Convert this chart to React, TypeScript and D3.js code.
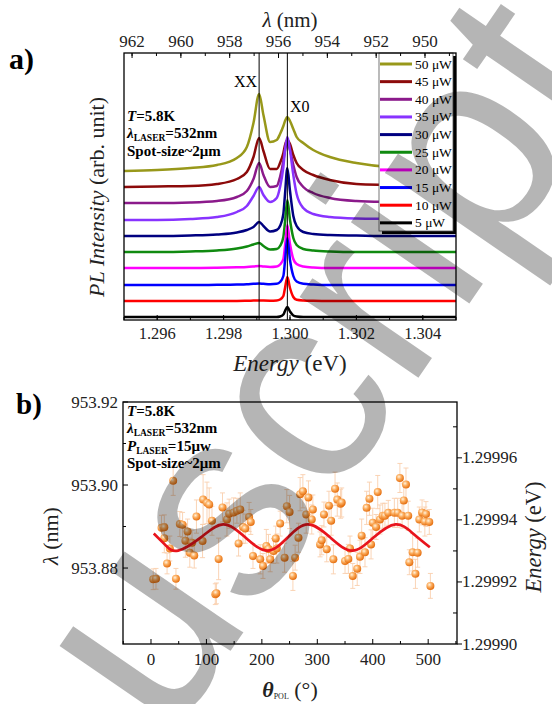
import React from 'react';
import * as d3 from 'd3';

const W = 552;
const H = 704;
const SERIF = '"Liberation Serif", "Times New Roman", Times, serif';

// ---------- Panel a data ----------
const powerLabels = ['50 μW', '45 μW', '40 μW', '35 μW', '30 μW', '25 μW', '20 μW', '15 μW', '10 μW', '5 μW'];
const seriesColors = ['#98981a', '#8c0a0a', '#8b1a8b', '#8833ff', '#000080', '#108a10', '#ff00ff', '#0000ff', '#ff0000', '#000000'];
const baselineOffsets = [14.9, 13.3, 11.7, 10.0, 8.4, 6.8, 5.2, 3.5, 1.9, 0.3];
const energyGrid = [1.2950, 1.2960, 1.2970, 1.2978, 1.2984, 1.2987, 1.2989, 1.29907, 1.2992, 1.2994, 1.2996, 1.2997, 1.2998, 1.29985, 1.29992, 1.3000, 1.3001, 1.3002, 1.3004, 1.3007, 1.3012, 1.3020, 1.3030, 1.3040, 1.3050];
const spec50 = [0, 0.1, 0.3, 0.6, 1.3, 2.4, 4.8, 7.7, 5.6, 2.9, 3.1, 3.7, 4.5, 5.0, 5.4, 5.0, 4.2, 3.4, 2.8, 2.1, 1.4, 0.8, 0.4, 0.3, 0.3];
const spec45 = [0, 0.05, 0.1, 0.3, 0.8, 1.5, 3.0, 4.9, 3.6, 1.8, 1.8, 2.4, 3.4, 4.2, 4.7, 4.3, 3.2, 2.4, 1.7, 1.2, 0.7, 0.3, 0.2, 0.1, 0.1];
const spec40 = [0, 0, 0.05, 0.2, 0.6, 1.2, 2.4, 4.0, 2.8, 1.6, 1.7, 2.6, 4.2, 5.3, 6.0, 5.3, 3.8, 2.6, 1.6, 1.0, 0.5, 0.2, 0.1, 0.05, 0];
const spec35 = [0, 0, 0.1, 0.3, 0.8, 1.4, 2.4, 3.3, 2.5, 1.8, 2.2, 3.3, 5.3, 7.0, 8.3, 7.0, 4.5, 2.6, 1.2, 0.6, 0.3, 0.15, 0.1, 0.05, 0];
const spec30 = [0, 0, 0.05, 0.15, 0.35, 0.6, 0.9, 1.4, 1.0, 0.45, 0.6, 1.0, 2.2, 4.2, 6.8, 4.5, 2.0, 1.0, 0.4, 0.2, 0.1, 0.05, 0, 0, 0];
const spec25 = [0, 0, 0.05, 0.15, 0.35, 0.55, 0.75, 0.9, 0.6, 0.25, 0.3, 0.6, 1.5, 3.0, 5.2, 3.2, 1.4, 0.7, 0.3, 0.15, 0.05, 0, 0, 0, 0];
const spec20 = [0, 0, 0, 0.03, 0.07, 0.1, 0.15, 0.2, 0.15, 0.1, 0.15, 0.35, 0.9, 2.2, 4.3, 2.4, 0.9, 0.4, 0.15, 0.05, 0, 0, 0, 0, 0];
const spec15 = [0, 0, 0, 0.02, 0.05, 0.08, 0.12, 0.15, 0.12, 0.08, 0.12, 0.3, 0.9, 2.4, 4.7, 2.5, 0.9, 0.35, 0.12, 0.05, 0, 0, 0, 0, 0];
const spec10 = [0, 0, 0, 0, 0, 0.02, 0.04, 0.06, 0.04, 0.03, 0.05, 0.15, 0.5, 1.3, 2.4, 1.3, 0.4, 0.12, 0.05, 0.02, 0, 0, 0, 0, 0];
const spec5 = [0, 0, 0, 0, 0, 0, 0, 0, 0, 0, 0, 0.05, 0.25, 0.6, 1.0, 0.55, 0.15, 0.05, 0, 0, 0, 0, 0, 0, 0];
const spectra = [spec50, spec45, spec40, spec35, spec30, spec25, spec20, spec15, spec10, spec5];
const energyTicks = [1.296, 1.298, 1.300, 1.302, 1.304];
const energyMinorTicks = [1.295, 1.296, 1.297, 1.298, 1.299, 1.300, 1.301, 1.302, 1.303, 1.304, 1.305];
const wavelengthTicks = [962, 960, 958, 956, 954, 952, 950];
const wavelengthMinorTicks = [962, 961, 960, 959, 958, 957, 956, 955, 954, 953, 952, 951, 950, 949];
const peakLines = [1.29907, 1.29992];

// ---------- Panel b data ----------
const polAngles = [4, 9, 19, 24, 24, 29, 34, 40, 45, 52, 57, 62, 66, 70, 74, 78, 82, 93, 94, 101, 105, 110, 116, 118, 122, 129, 137, 141, 149, 155, 158, 161, 166, 170, 177, 180, 184, 197, 202, 208, 212, 215, 221, 225, 227, 233, 241, 245, 250, 256, 260, 266, 269, 274, 280, 284, 290, 292, 305, 308, 312, 317, 321, 325, 329, 332, 336, 342, 344, 350, 356, 359, 364, 372, 377, 380, 386, 389, 394, 397, 400, 406, 409, 413, 418, 422, 428, 439, 445, 449, 453, 456, 460, 464, 466, 472, 477, 481, 484, 489, 494, 496, 502, 504];
const polWavelengths = [953.8773, 953.8774, 953.8897, 953.8898, 953.8872, 953.8811, 953.8847, 953.9010, 953.8774, 953.8906, 953.8904, 953.8866, 953.8888, 953.8837, 953.8861, 953.8830, 953.8924, 953.8865, 953.8965, 953.8957, 953.8953, 953.8914, 953.8737, 953.8739, 953.8822, 953.8946, 953.8917, 953.8931, 953.8934, 953.8938, 953.8859, 953.8941, 953.8899, 953.8895, 953.8923, 953.8911, 953.8829, 953.8821, 953.8805, 953.8853, 953.8846, 953.8821, 953.8841, 953.8871, 953.8847, 953.8907, 953.8825, 953.8949, 953.8935, 953.8781, 953.8825, 953.8873, 953.8978, 953.8985, 953.8929, 953.8970, 953.8917, 953.8941, 953.8857, 953.8867, 953.8929, 953.8845, 953.8950, 953.8914, 953.8821, 953.8991, 953.8965, 953.8955, 953.8958, 953.8817, 953.8822, 953.8847, 953.8781, 953.8798, 953.8827, 953.8878, 953.8838, 953.8945, 953.8967, 953.8857, 953.8909, 953.8899, 953.8983, 953.8917, 953.8926, 953.8926, 953.8933, 953.8933, 953.8933, 953.9017, 953.8926, 953.8963, 953.9001, 953.8926, 953.8814, 953.8838, 953.8786, 953.8837, 953.8917, 953.8934, 953.8912, 953.8930, 953.8911, 953.8757];
const polErrors = [0.0025, 0.0025, 0.003, 0.003, 0.0035, 0.0025, 0.003, 0.0035, 0.0025, 0.003, 0.003, 0.004, 0.003, 0.0035, 0.003, 0.003, 0.004, 0.004, 0.006, 0.005, 0.004, 0.0035, 0.0025, 0.0025, 0.005, 0.0035, 0.004, 0.0035, 0.0035, 0.003, 0.003, 0.004, 0.004, 0.0035, 0.0035, 0.003, 0.003, 0.0035, 0.003, 0.004, 0.0035, 0.003, 0.003, 0.003, 0.0035, 0.003, 0.0035, 0.004, 0.004, 0.0035, 0.003, 0.0035, 0.004, 0.004, 0.0045, 0.004, 0.0035, 0.0035, 0.003, 0.0035, 0.003, 0.003, 0.0035, 0.0035, 0.0035, 0.004, 0.004, 0.0035, 0.0035, 0.003, 0.0035, 0.003, 0.003, 0.004, 0.004, 0.004, 0.0035, 0.004, 0.004, 0.0035, 0.0035, 0.003, 0.004, 0.0035, 0.003, 0.003, 0.003, 0.0035, 0.0035, 0.0035, 0.003, 0.004, 0.004, 0.0035, 0.003, 0.0045, 0.0035, 0.0035, 0.003, 0.003, 0.0035, 0.003, 0.003, 0.003];
const fitAngles = [5, 27, 49, 90, 130, 170, 210, 247, 283, 323, 363, 402, 441, 472, 503];
const fitWavelengths = [953.8883, 953.8854, 953.8842, 953.8874, 953.8905, 953.8874, 953.8842, 953.8874, 953.8905, 953.8874, 953.8842, 953.8874, 953.8905, 953.8884, 953.8850];
const angleTicks = [0, 100, 200, 300, 400, 500];
const angleMinorTicks = [-50, 50, 150, 250, 350, 450, 550];
const lambdaTicks = [953.92, 953.90, 953.88];
const lambdaMinorTicks = [953.91, 953.89, 953.87];
const energyBTicks = [1.29990, 1.29992, 1.29994, 1.29996];
const energyBMinorTicks = [1.29991, 1.29993, 1.29995, 1.29997];

// ---------- Geometry ----------
const A = { left: 124, right: 456, top: 53, bottom: 320 };
const B = { left: 123, right: 457, top: 402, bottom: 644 };

export default function App() {
  const xE = d3.scaleLinear().domain([1.295, 1.305]).range([A.left, A.right]);
  const xL = d3.scaleLinear().domain([962.33, 948.73]).range([A.left, A.right]);
  const yA = d3.scaleLinear().domain([0, 26.7]).range([A.bottom, A.top]);

  const xT = d3.scaleLinear().domain([-50.5, 552]).range([B.left, B.right]);
  const yW = d3.scaleLinear().domain([953.8617, 953.92]).range([B.bottom, B.top]);
  const yEb = d3.scaleLinear().domain([1.2999, 1.299978]).range([B.bottom, B.top]);

  const specLine = (vals: number[], off: number) =>
    d3.line<number>()
      .x((_, i) => xE(energyGrid[i]))
      .y((v) => yA(v + off))
      .curve(d3.curveMonotoneX)(vals) || '';

  const fitPath = d3.line<number>()
    .x((a) => xT(a))
    .y((_, i) => yW(fitWavelengths[i]))
    .curve(d3.curveNatural)(fitAngles) || '';

  const legendTop = 64;
  const legendStep = 17.65;

  return (
    <svg width={W} height={H} style={{ position: 'absolute', left: 0, top: 0, background: '#fff' }} fontFamily={SERIF}>
      <defs>
        <radialGradient id="ball" cx="38%" cy="35%" r="65%">
          <stop offset="0%" stopColor="#fff3de" />
          <stop offset="45%" stopColor="#fcad5e" />
          <stop offset="100%" stopColor="#e56f10" />
        </radialGradient>
      </defs>
      <rect x={0} y={0} width={W} height={H} fill="#fff" />

      {/* ================= Panel a ================= */}
      <text x={9} y={69} fontSize={30} fontWeight="bold">a)</text>

      {spectra.map((s, i) => (
        <path key={i} d={specLine(s, baselineOffsets[i])} fill="none" stroke={seriesColors[i]} strokeWidth={2.5} strokeLinejoin="round" />
      ))}

      {peakLines.map((e, i) => (
        <line key={i} x1={xE(e)} x2={xE(e)} y1={A.top} y2={A.bottom} stroke="#000" strokeWidth={1} />
      ))}

      <text x={234} y={87} fontSize={16}>XX</text>
      <text x={290} y={112} fontSize={16}>X0</text>

      <g fontSize={15} fontWeight="bold">
        <text x={127} y={121}><tspan fontStyle="italic">T</tspan>=5.8K</text>
        <text x={127} y={138}><tspan fontStyle="italic">λ</tspan><tspan fontSize={9.5} dy={2.5}>LASER</tspan><tspan dy={-2.5}>=532nm</tspan></text>
        <text x={127} y={156}>Spot-size~2μm</text>
      </g>

      {/* legend */}
      <rect x={382} y={56} width={74} height={178} fill="#000" />
      <rect x={379} y={53} width={74} height={178} fill="#fff" stroke="#555" strokeWidth={0.8} />
      {powerLabels.map((lab, i) => {
        const y = legendTop + i * legendStep;
        return (
          <g key={lab}>
            <line x1={380} x2={412} y1={y} y2={y} stroke={seriesColors[i]} strokeWidth={3} />
            <text x={415} y={y + 4.5} fontSize={13.5}>{lab}</text>
          </g>
        );
      })}

      {/* frame a */}
      <rect x={A.left} y={A.top} width={A.right - A.left} height={A.bottom - A.top} fill="none" stroke="#000" strokeWidth={1.3} />
      {energyMinorTicks.map((t) => (
        <line key={'em' + t} x1={xE(t)} x2={xE(t)} y1={A.bottom} y2={A.bottom - 3} stroke="#000" strokeWidth={1} />
      ))}
      {energyTicks.map((t) => (
        <g key={'e' + t}>
          <line x1={xE(t)} x2={xE(t)} y1={A.bottom} y2={A.bottom - 5} stroke="#000" strokeWidth={1} />
          <text x={xE(t)} y={339} fontSize={16.5} textAnchor="middle" fill="#222">{t.toFixed(3)}</text>
        </g>
      ))}
      {wavelengthMinorTicks.map((t) => (
        <line key={'wm' + t} x1={xL(t)} x2={xL(t)} y1={A.top} y2={A.top + 3} stroke="#000" strokeWidth={1} />
      ))}
      {wavelengthTicks.map((t) => (
        <g key={'w' + t}>
          <line x1={xL(t)} x2={xL(t)} y1={A.top} y2={A.top + 5} stroke="#000" strokeWidth={1} />
          <text x={xL(t)} y={46.5} fontSize={17} textAnchor="middle" fill="#222">{t}</text>
        </g>
      ))}
      <text x={290} y={27} fontSize={21} textAnchor="middle" fill="#222"><tspan fontStyle="italic">λ</tspan> (nm)</text>
      <text x={290} y={371} fontSize={23} textAnchor="middle" fill="#222"><tspan fontStyle="italic">Energy</tspan> (eV)</text>
      <text transform="translate(104,197) rotate(-90)" fontSize={22} textAnchor="middle" fill="#222"><tspan fontStyle="italic">PL Intensity</tspan> (arb. unit)</text>

      {/* ================= Panel b ================= */}
      <text x={16} y={414} fontSize={29} fontWeight="bold">b)</text>

      {polAngles.map((a, i) => {
        const x = xT(a);
        const y1 = yW(polWavelengths[i] - polErrors[i]);
        const y2 = yW(polWavelengths[i] + polErrors[i]);
        return (
          <g key={'eb' + i} stroke="#f9cfae" strokeWidth={0.9}>
            <line x1={x} x2={x} y1={y1} y2={y2} />
            <line x1={x - 2.5} x2={x + 2.5} y1={y1} y2={y1} />
            <line x1={x - 2.5} x2={x + 2.5} y1={y2} y2={y2} />
          </g>
        );
      })}
      {polAngles.map((a, i) => (
        <circle key={'pt' + i} cx={xT(a)} cy={yW(polWavelengths[i])} r={4} fill="url(#ball)" />
      ))}
      <path d={fitPath} fill="none" stroke="#e8141c" strokeWidth={2.7} />

      <g fontSize={15} fontWeight="bold">
        <text x={127} y={416}><tspan fontStyle="italic">T</tspan>=5.8K</text>
        <text x={127} y={433}><tspan fontStyle="italic">λ</tspan><tspan fontSize={9.5} dy={2.5}>LASER</tspan><tspan dy={-2.5}>=532nm</tspan></text>
        <text x={127} y={451}><tspan fontStyle="italic">P</tspan><tspan fontSize={9.5} dy={2.5}>LASER</tspan><tspan dy={-2.5}>=15μw</tspan></text>
        <text x={127} y={468}>Spot-size~2μm</text>
      </g>

      <rect x={B.left} y={B.top} width={B.right - B.left} height={B.bottom - B.top} fill="none" stroke="#000" strokeWidth={1.3} />
      {angleMinorTicks.map((t) => (
        <line key={'am' + t} x1={xT(t)} x2={xT(t)} y1={B.bottom} y2={B.bottom - 3} stroke="#000" strokeWidth={1} />
      ))}
      {angleTicks.map((t) => (
        <g key={'a' + t}>
          <line x1={xT(t)} x2={xT(t)} y1={B.bottom} y2={B.bottom - 5} stroke="#000" strokeWidth={1} />
          <text x={xT(t)} y={665} fontSize={17} textAnchor="middle" fill="#222">{t}</text>
        </g>
      ))}
      {lambdaMinorTicks.map((t) => (
        <line key={'lm' + t} x1={B.left} x2={B.left + 3} y1={yW(t)} y2={yW(t)} stroke="#000" strokeWidth={1} />
      ))}
      {lambdaTicks.map((t) => (
        <g key={'l' + t}>
          <line x1={B.left} x2={B.left + 5} y1={yW(t)} y2={yW(t)} stroke="#000" strokeWidth={1} />
          <text x={118} y={yW(t) + 5.5} fontSize={17} textAnchor="end" fill="#222">{t.toFixed(2)}</text>
        </g>
      ))}
      {energyBMinorTicks.map((t) => (
        <line key={'ebm' + t} x1={B.right} x2={B.right - 4} y1={yEb(t)} y2={yEb(t)} stroke="#000" strokeWidth={1} />
      ))}
      {energyBTicks.map((t) => (
        <g key={'eb' + t}>
          <line x1={B.right} x2={B.right + 5} y1={yEb(t)} y2={yEb(t)} stroke="#000" strokeWidth={1} />
          <text x={462} y={yEb(t) + 5.5} fontSize={17} fill="#222">{t.toFixed(5)}</text>
        </g>
      ))}
      <text transform="translate(58,536) rotate(-90)" fontSize={22} textAnchor="middle" fill="#222"><tspan fontStyle="italic">λ</tspan> (nm)</text>
      <text transform="translate(541,537) rotate(-90)" fontSize={22.5} textAnchor="middle" fill="#222"><tspan fontStyle="italic">Energy</tspan> (eV)</text>
      <text x={290} y={697} fontSize={22} textAnchor="middle" fill="#222"><tspan fontStyle="italic" fontWeight="bold">θ</tspan><tspan fontSize={8} dy={2}>POL</tspan><tspan dy={-2}> (°)</tspan></text>

      {/* watermark */}
      <text transform="translate(168,742) rotate(-55.5)" fontSize={272} fontFamily='"Liberation Sans", Arial, sans-serif' fill="#000" fillOpacity={0.29}>uscript</text>
    </svg>
  );
}
